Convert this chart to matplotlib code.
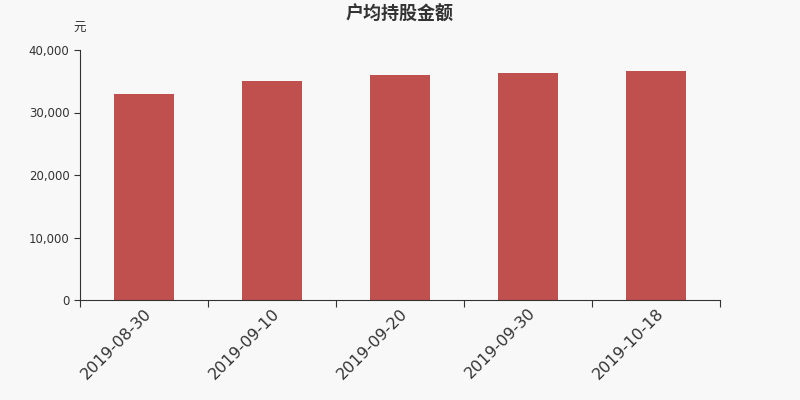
import matplotlib
matplotlib.use('Agg')
import matplotlib.pyplot as plt
from matplotlib.ticker import FuncFormatter
import numpy as np

plt.rcParams['font.family'] = ['DejaVu Sans', 'Noto Sans CJK SC']

dates = ['2019-08-30', '2019-09-10', '2019-09-20', '2019-09-30', '2019-10-18']
amount = [32900, 35000, 36050, 36250, 36600]

bg = '#f8f8f8'
fig = plt.figure(figsize=(8, 4), dpi=100, facecolor=bg)
ax = fig.add_axes([0.1, 0.25, 0.8, 0.625], facecolor=bg)

x = np.arange(len(dates))
ax.bar(x, amount, width=0.47, color='#c0504d', zorder=2)

ax.set_xlim(-0.5, len(dates) - 0.5)
ax.set_ylim(0, 40000)
ax.set_yticks([0, 10000, 20000, 30000, 40000])
ax.yaxis.set_major_formatter(FuncFormatter(lambda v, p: f'{int(v):,}'))

# ticks on category boundaries, labels under bar centres
ax.set_xticks(np.arange(-0.5, len(dates)), minor=False)
ax.set_xticklabels([])
ax.set_xticks(x, minor=True)
ax.set_xticklabels(dates, minor=True, rotation=45, ha='right',
                   rotation_mode='anchor', fontsize=11.5, color='#333333')
ax.tick_params(axis='x', which='minor', length=0, pad=4)
ax.tick_params(axis='x', which='major', length=5, color='#333333')
ax.tick_params(axis='y', length=4, labelsize=8.5, color='#333333', labelcolor='#333333')

for s in ['top', 'right']:
    ax.spines[s].set_visible(False)
ax.spines['left'].set_color('#333333')
ax.spines['bottom'].set_color('#333333')

cjk = ['Noto Sans CJK SC', 'DejaVu Sans']
fig.text(0.5, 0.965, '户均持股金额', ha='center', va='center', family=cjk,
         fontsize=13, fontweight='bold', color='#333333')
fig.text(0.1, 0.93, '元', ha='center', va='center', fontsize=9,
         family=cjk, color='#333333')

fig.savefig('out.png', dpi=100, facecolor=bg)
